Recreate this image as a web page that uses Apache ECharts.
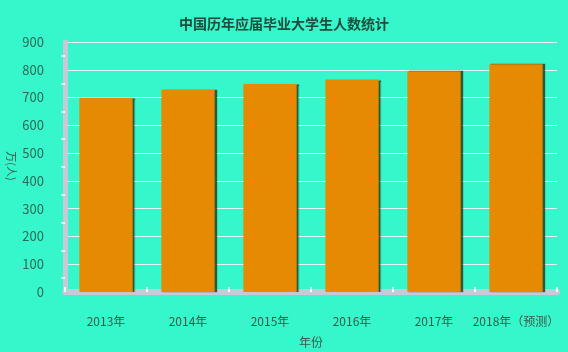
<!DOCTYPE html>
<html style="height: 100%">
<head>
    <meta charset="utf-8">
</head>
<body style="height: 100%; margin: 0; background: #36f6cb">
    <div id="container" style="width: 568px; height: 352px"></div>
    <script src="https://cdn.jsdelivr.net/npm/echarts@6/dist/echarts.min.js"></script>
    <script type="text/javascript">
        // 数据
        var years = ['2013年', '2014年', '2015年', '2016年', '2017年', '2018年（预测）'];
        var graduates = [699, 727, 749, 765, 795, 820];
        var yTicks = [0, 900, 100];

        var myChart = echarts.init(document.getElementById('container'));
        var font = "'Noto Sans CJK SC', sans-serif";

        myChart.setOption({
            animation: false,
            backgroundColor: '#36f6cb',
            title: {
                text: '中国历年应届毕业大学生人数统计',
                left: 'center',
                top: 12,
                textStyle: {
                    color: '#1d4d3c',
                    fontSize: 14,
                    fontWeight: 'bold',
                    fontFamily: font
                }
            },
            // y轴名称，竖排
            graphic: [{
                type: 'text',
                x: 11,
                y: 166,
                rotation: -Math.PI / 2,
                style: {
                    text: '万(人)',
                    fill: '#3b5a4c',
                    fontSize: 11,
                    fontFamily: font,
                    align: 'center',
                    verticalAlign: 'middle'
                }
            }],
            grid: {
                left: 65,
                right: 11,
                top: 42,
                bottom: 60,
                outerBoundsMode: 'none'
            },
            xAxis: {
                type: 'category',
                data: years,
                name: '年份',
                nameLocation: 'middle',
                nameGap: 41,
                nameTextStyle: { color: '#3b5a4c', fontSize: 12, fontFamily: font },
                offset: 3,
                axisLine: { lineStyle: { color: '#c6cad6', width: 6 } },
                axisTick: { show: true, interval: 0, inside: true, length: 5, lineStyle: { color: '#ffffff', width: 2 } },
                axisLabel: { interval: 0, color: '#3b5a4c', fontSize: 12, margin: 20, fontFamily: font }
            },
            yAxis: {
                type: 'value',
                min: yTicks[0],
                max: yTicks[1],
                interval: yTicks[2],
                axisLine: { show: true, lineStyle: { color: '#c6cad6', width: 5 } },
                axisTick: { show: false },
                minorTick: { show: true, splitNumber: 2, length: 4, lineStyle: { color: '#ffffff', width: 1.5 } },
                axisLabel: { color: '#2f6a57', fontSize: 13, margin: 21, fontFamily: font },
                splitLine: { lineStyle: { color: '#e4f7f0', width: 1 } }
            },
            series: [{
                type: 'bar',
                data: graduates,
                barWidth: '65%',
                itemStyle: {
                    color: '#e68a04',
                    shadowColor: 'rgba(40, 50, 20, 0.8)',
                    shadowOffsetX: 2,
                    shadowOffsetY: 0,
                    shadowBlur: 1
                }
            }]
        });
    </script>
</body>
</html>
